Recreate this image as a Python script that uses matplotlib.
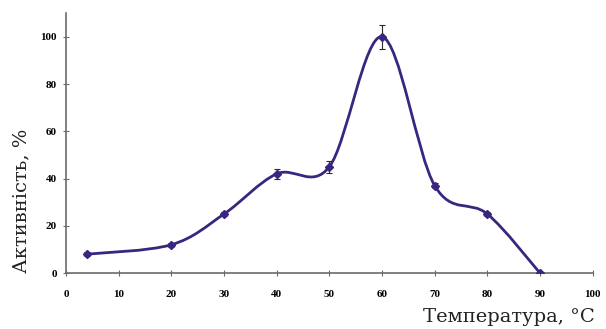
import matplotlib
matplotlib.use("Agg")
import matplotlib.pyplot as plt
import numpy as np
from matplotlib.path import Path
from matplotlib.patches import PathPatch

# Activity vs temperature
temperature = [4, 20, 30, 40, 50, 60, 70, 80, 90]
activity = [8, 12, 25, 42, 45, 100, 37, 25, 0]
errors = [0.8, 0.8, 1.0, 2.2, 2.5, 5.0, 1.2, 1.0, 0.5]
xticks = [0, 10, 20, 30, 40, 50, 60, 70, 80, 90, 100]
yticks = [0, 20, 40, 60, 80, 100]

line_color = "#3a2680"
axis_color = "#6e6a6a"

fig = plt.figure(figsize=(6.06, 3.29), dpi=100)
ax = fig.add_axes([0.109, 0.17, 0.869, 0.79])

# smoothed line (Excel-like) built from bezier segments through the data points
x = np.array(temperature, dtype=float)
y = np.array(activity, dtype=float)
n = len(x)
verts = [(x[0], y[0])]
codes = [Path.MOVETO]
for i in range(n - 1):
    p0 = (x[i - 1], y[i - 1]) if i > 0 else (x[i], y[i])
    p3 = (x[i + 2], y[i + 2]) if i + 2 < n else (x[i + 1], y[i + 1])
    c1 = (x[i] + (x[i + 1] - p0[0]) / 6, y[i] + (y[i + 1] - p0[1]) / 6)
    c2 = (x[i + 1] - (p3[0] - x[i]) / 6, y[i + 1] - (p3[1] - y[i]) / 6)
    verts += [c1, c2, (x[i + 1], y[i + 1])]
    codes += [Path.CURVE4] * 3
ax.add_patch(PathPatch(Path(verts, codes), facecolor="none",
                       edgecolor=line_color, lw=2.0, zorder=3))

ax.errorbar(temperature, activity, yerr=errors, fmt="D", color=line_color,
            ms=4, ecolor="#2a2a2a", elinewidth=0.8, capsize=2, capthick=0.8,
            zorder=4)

ax.set_xlim(0, 100)
ax.set_ylim(0, 110)
ax.set_xticks(xticks)
ax.set_yticks(yticks)
for s in ["top", "right"]:
    ax.spines[s].set_visible(False)
for s in ["left", "bottom"]:
    ax.spines[s].set_color(axis_color)
    ax.spines[s].set_linewidth(1.2)
ax.tick_params(direction="inout", length=5, width=0.8, color=axis_color,
               labelsize=8)
ax.tick_params(axis="x", pad=10)
ax.tick_params(axis="y", pad=4)
for lbl in ax.get_xticklabels() + ax.get_yticklabels():
    lbl.set_fontfamily("Liberation Serif")
    lbl.set_fontweight("bold")

fig.text(0.035, 0.39, "Активність, %", rotation=90, ha="center", va="center",
         fontsize=14, family="DejaVu Serif", color="#222222")
fig.text(0.982, 0.035, "Температура, °C", ha="right", va="center",
         fontsize=14, family="DejaVu Serif", color="#222222")

fig.savefig("out.png", dpi=100)
